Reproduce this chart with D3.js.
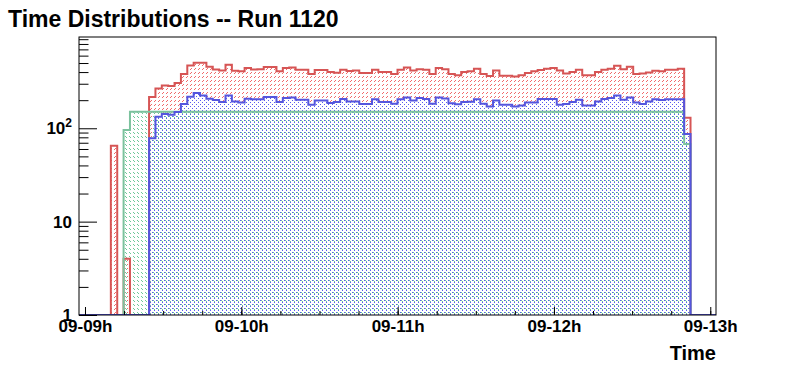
<!DOCTYPE html>
<html>
<head>
<meta charset="utf-8">
<script src="https://cdnjs.cloudflare.com/ajax/libs/d3/7.8.5/d3.min.js"></script>
<style>
  body { margin: 0; background: #fff; }
  svg { display: block; font-family: "Liberation Sans", Arial, sans-serif; font-weight: bold; }
</style>
</head>
<body>
<svg id="svg" width="796" height="372"></svg>
<script>
// bin contents, 100 bins from histStart to histEnd
var histStart = "2020-09-09T08:57:42Z";
var histEnd = "2020-09-09T13:02:12Z";

var redCounts = [0,0,0,0,0,65,0,4,0,0,
  0,216,267,288,283,305,381,471,504,504,
  457,427,417,480,414,407,443,427,429,453,
  453,407,443,449,424,424,381,421,421,400,
  394,424,410,417,391,391,424,400,400,381,
  424,449,417,428,424,381,442,428,381,369,
  400,407,435,381,363,417,366,366,359,369,
  391,407,421,435,442,417,387,400,424,369,
  369,400,424,435,468,428,456,381,387,397,
  414,407,424,424,435,130,0,0,0,0];

var greenCounts = [0,0,0,0,0,0,0,96,150,150,
  150,150,150,150,150,150,150,150,150,150,
  150,150,150,150,150,150,150,150,150,150,
  150,150,150,150,150,150,150,150,150,150,
  150,150,150,150,150,150,150,150,150,150,
  150,150,150,150,150,150,150,150,150,150,
  150,150,150,150,150,150,150,150,150,150,
  150,150,150,150,150,150,150,150,150,150,
  150,150,150,150,150,150,150,150,150,150,
  150,150,150,150,150,68,0,0,0,0];

var blueCounts = [0,0,0,0,0,0,0,0,0,0,
  0,78,133,142,140,149,182,218,239,225,
  207,201,191,225,194,189,207,204,204,216,
  216,191,211,214,202,202,179,199,199,186,
  191,206,194,194,182,182,204,191,191,183,
  204,214,199,211,206,183,214,208,185,181,
  191,192,204,183,171,199,179,179,171,175,
  189,189,206,206,206,179,182,191,202,175,
  175,194,206,211,225,202,214,189,182,194,
  204,201,204,204,204,87,0,0,0,0];

var hourTicks = ["2020-09-09T09:00:00Z","2020-09-09T10:00:00Z","2020-09-09T11:00:00Z","2020-09-09T12:00:00Z","2020-09-09T13:00:00Z"];
var yMajor = [1, 10, 100];
var yMinor = [2,3,4,5,6,7,8,9,20,30,40,50,60,70,80,90,200,300,400,500,600,700,800,900];
var yMax = 950;

var svg = d3.select('#svg');
var frame = {left: 79, top: 37, right: 716, bottom: 315};

var t0 = new Date(histStart), t1 = new Date(histEnd);
var xScale = d3.scaleUtc().domain([t0, t1]).range([frame.left, frame.right]);
var yScale = d3.scaleLog().domain([1, yMax]).range([frame.bottom, frame.top]).clamp(true);

// hatch patterns: one tile per fill style
var defs = svg.append("defs");
function hatch(id, color, path, bg) {
  var p = defs.append("pattern").attr("id", id)
    .attr("patternUnits", "userSpaceOnUse")
    .attr("width", 4).attr("height", 4);
  if (bg) p.append("rect").attr("width", 4).attr("height", 4).attr("fill", bg);
  p.append("path").attr("d", path).attr("fill", color).attr("shape-rendering", "crispEdges");
}
hatch("hatchRed", "#f06a6a", "M3,0h1v1h-1zM2,1h1v1h-1z");
hatch("hatchGreen", "#6cc898", "M1,0h1v1h-1zM2,1h1v1h-1z");
hatch("hatchBlue", "#5a5af0", "M0,0h1v1h-1zM2,2h1v1h-1z", "#fff");

svg.append("clipPath").attr("id", "frameClip").append("rect")
  .attr("x", frame.left).attr("y", frame.top)
  .attr("width", frame.right - frame.left).attr("height", frame.bottom - frame.top);

var nBins = redCounts.length;
var binMs = (t1 - t0) / nBins;

function histPoints(counts) {
  var pts = [[xScale(t0), frame.bottom]];
  counts.forEach(function(c, i) {
    var yv = yScale(Math.max(c, 1));
    pts.push([xScale(new Date(+t0 + i * binMs)), yv]);
    pts.push([xScale(new Date(+t0 + (i + 1) * binMs)), yv]);
  });
  pts.push([xScale(t1), frame.bottom]);
  return pts;
}

var plot = svg.append("g").attr("clip-path", "url(#frameClip)");
var red = {counts: redCounts, color: "#d65555", fill: "url(#hatchRed)"};
var green = {counts: greenCounts, color: "#7cc29e", fill: "url(#hatchGreen)"};
var blue = {counts: blueCounts, color: "#5555dd", fill: "url(#hatchBlue)"};

[red, blue, green].forEach(function(s) {
  plot.append("path")
    .attr("d", d3.line()(histPoints(s.counts)) + "Z")
    .attr("fill", s.fill).attr("stroke", "none");
});
[red, green, blue].forEach(function(s) {
  plot.append("path")
    .attr("d", d3.line()(histPoints(s.counts)))
    .attr("fill", "none").attr("stroke", s.color).attr("stroke-width", 2);
});

// frame
svg.append("rect")
  .attr("x", frame.left).attr("y", frame.top)
  .attr("width", frame.right - frame.left).attr("height", frame.bottom - frame.top)
  .attr("fill", "none").attr("stroke", "#000").attr("stroke-width", 1);

// x axis
var xAxis = svg.append("g").attr("transform", "translate(0," + frame.bottom + ")")
  .call(d3.axisBottom(xScale)
    .tickValues(hourTicks.map(function(d){ return new Date(d); }))
    .tickFormat(d3.utcFormat("%m-%Hh"))
    .tickSize(-8).tickPadding(5));
svg.append("g").attr("transform", "translate(0," + frame.bottom + ")")
  .call(d3.axisBottom(xScale)
    .ticks(d3.utcMinute.every(15))
    .tickFormat("").tickSize(-4));

var yAxis = svg.append("g").attr("transform", "translate(" + frame.left + ",0)")
  .call(d3.axisLeft(yScale).tickValues(yMajor).tickFormat(function(d){ return ""; })
    .tickSize(-18).tickPadding(7));
svg.append("g").attr("transform", "translate(" + frame.left + ",0)")
  .call(d3.axisLeft(yScale).tickValues(yMinor).tickFormat("").tickSize(-9.5));

svg.selectAll(".domain").remove();
svg.selectAll(".tick line").attr("stroke", "#000").attr("stroke-width", 1);
xAxis.selectAll("text").attr("font-size", 17).attr("font-family", "Liberation Sans, Arial, sans-serif")
  .attr("font-weight", "bold").attr("fill", "#000");

yAxis.selectAll(".tick text").each(function(d) {
  var t = d3.select(this).attr("font-size", 17).attr("fill", "#000")
    .attr("font-family", "Liberation Sans, Arial, sans-serif").attr("font-weight", "bold");
  if (d >= 100) {
    t.append("tspan").text("10");
    t.append("tspan").attr("font-size", 12).attr("dy", -7).text(Math.round(Math.log10(d)));
  } else {
    t.text(d);
  }
});

// titles
svg.append("text").attr("x", 8).attr("y", 27)
  .attr("font-size", 23).attr("fill", "#000")
  .text("Time Distributions -- Run 1120");
svg.append("text").attr("x", frame.right).attr("y", 360)
  .attr("text-anchor", "end").attr("font-size", 20).attr("fill", "#000")
  .text("Time");
</script>
</body>
</html>
